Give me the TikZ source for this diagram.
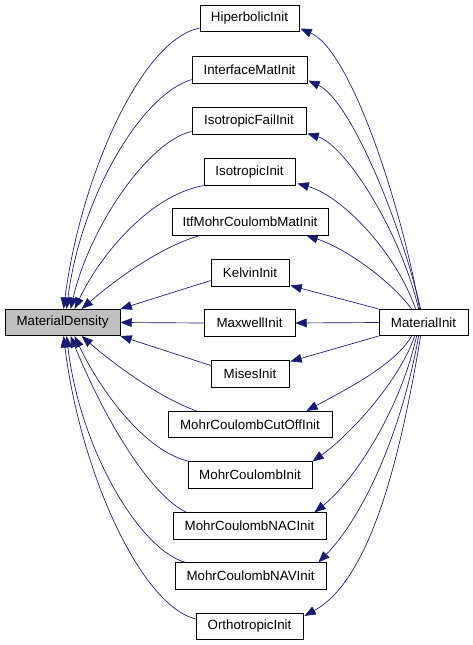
\documentclass[tikz,border=0pt]{standalone}
\usepackage{fontspec}
\setmainfont{Liberation Sans}
\usetikzlibrary{arrows.meta,calc}
\definecolor{edgeblue}{RGB}{25,25,112}
\definecolor{mdgray}{RGB}{191,191,191}
\begin{document}
\begin{tikzpicture}[x=0.75pt,y=-0.75pt,
  box/.style={draw=black,line width=0.6pt,rectangle,inner sep=0pt,minimum height=19.75pt,font=\fontsize{10}{12}\selectfont},
  e/.style={draw=edgeblue,line width=0.5pt,-{Triangle[length=8.5pt,width=6.5pt]}}]
\useasboundingbox (0,0) rectangle (472,645);
\node[box,fill=mdgray,minimum width=86.25pt] (md) at (62.5,322.5) {MaterialDensity};
\node[box,minimum width=66.75pt] (mi) at (423.5,322.5) {MaterialInit};
\node[box,minimum width=74.25pt] (hip) at (249.5,18.5) {HiperbolicInit};
\node[box,minimum width=86.25pt] (ifm) at (249.5,70) {InterfaceMatInit};
\node[box,minimum width=85.5pt] (ifa) at (249,121) {IsotropicFailInit};
\node[box,minimum width=68.25pt] (iso) at (249.5,172) {IsotropicInit};
\node[box,minimum width=117pt] (itf) at (250,222) {ItfMohrCoulombMatInit};
\node[box,minimum width=58.5pt] (kel) at (250,273) {KelvinInit};
\node[box,minimum width=68.25pt] (max) at (249.5,323) {MaxwellInit};
\node[box,minimum width=58.5pt] (mis) at (250,374) {MisesInit};
\node[box,minimum width=123pt] (mcc) at (250,424.5) {MohrCoulombCutOffInit};
\node[box,minimum width=93pt] (mc) at (250,475) {MohrCoulombInit};
\node[box,minimum width=114.75pt] (nac) at (249.5,526) {MohrCoulombNACInit};
\node[box,minimum width=113.25pt] (nav) at (250.5,576) {MohrCoulombNAVInit};
\node[box,minimum width=80.25pt] (ort) at (249.5,626.5) {OrthotropicInit};
% MaterialInit -> middle nodes
\draw[e] ($(mi.north west)+(41,0)$) .. controls (400,200) and (350,50) .. ($(hip.south east)+(1,-3.5)$);
\draw[e] ($(mi.north west)+(42,0)$) .. controls (400,220) and (350,100) .. ($(ifm.south east)+(1,-3)$);
\draw[e] ($(mi.north west)+(40,0)$) .. controls (400,230) and (345,145) .. ($(ifa.south east)+(1,-1)$);
\draw[e] ($(mi.north west)+(37,0)$) .. controls (395,250) and (340,195) .. ($(iso.south east)+(2,-2)$);
\draw[e] ($(mi.north west)+(33,0)$) .. controls (390,280) and (345,248) .. ($(itf.south east)+(-22,0)$);
\draw[e] (mi.north west) -- ($(kel.south east)+(1,-1)$);
\draw[e] (mi.west) -- (max.east);
\draw[e] (mi.south west) -- ($(mis.north east)+(1,1)$);
\draw[e] ($(mi.south west)+(33,0)$) .. controls (395,365) and (345,390) .. ($(mcc.north east)+(-26,0)$);
\draw[e] ($(mi.south west)+(36,0)$) .. controls (400,380) and (350,435) .. (mc.north east);
\draw[e] ($(mi.south west)+(38,0)$) .. controls (400,410) and (355,480) .. ($(nac.north east)+(-12,0)$);
\draw[e] ($(mi.south west)+(40,0)$) .. controls (400,440) and (360,520) .. ($(nav.north east)+(-8,0)$);
\draw[e] ($(mi.south west)+(42,0)$) .. controls (400,460) and (370,580) .. ($(ort.north east)+(1,3)$);
% middle nodes -> MaterialDensity
\draw[e] ($(hip.south west)+(0,-4)$) .. controls (140,40) and (80,180) .. ($(md.north west)+(59,0)$);
\draw[e] ($(ifm.south west)+(0,-4)$) .. controls (140,95) and (80,200) .. ($(md.north west)+(62,0)$);
\draw[e] ($(ifa.south west)+(0,-3)$) .. controls (150,140) and (90,225) .. ($(md.north west)+(66,0)$);
\draw[e] (iso.south west) .. controls (150,195) and (100,255) .. ($(md.north west)+(70,0)$);
\draw[e] ($(itf.south west)+(28,0)$) .. controls (160,247) and (115,280) .. ($(md.north west)+(77,0)$);
\draw[e] ($(kel.south west)+(0,-6)$) -- (md.north east);
\draw[e] (max.west) -- (md.east);
\draw[e] ($(mis.north west)+(0,5)$) -- (md.south east);
\draw[e] ($(mcc.north west)+(29,0)$) .. controls (160,398) and (115,365) .. ($(md.south west)+(77,0)$);
\draw[e] ($(mc.north west)+(2,0)$) .. controls (145,452) and (100,390) .. ($(md.south west)+(70,0)$);
\draw[e] ($(nac.north west)+(14,0)$) .. controls (150,495) and (105,420) .. ($(md.south west)+(66,0)$);
\draw[e] ($(nav.north west)+(11,0)$) .. controls (140,550) and (80,450) .. ($(md.south west)+(62,0)$);
\draw[e] ($(ort.north west)+(0,6)$) .. controls (140,605) and (80,470) .. ($(md.south west)+(59,0)$);
\end{tikzpicture}
\end{document}
